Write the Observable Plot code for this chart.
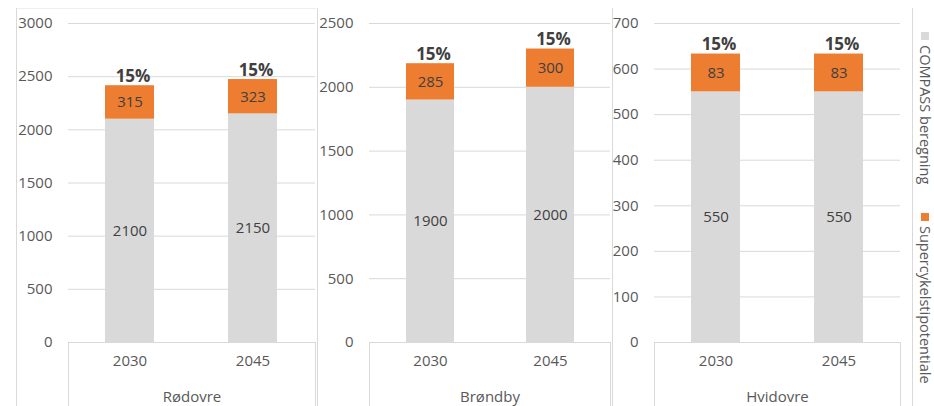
<!DOCTYPE html>
<html><head><meta charset="utf-8">
<script src="https://cdn.jsdelivr.net/npm/d3@7"></script>
<script src="https://cdn.jsdelivr.net/npm/@observablehq/plot@0.6"></script>
<style>
body{margin:0;background:#fff;font-family:"Open Sans",sans-serif;}
#chart{position:relative;width:934px;height:406px;overflow:hidden;background:#fff;}
.panel{position:absolute;top:8px;height:398px;border-left:1px solid #d9d9d9;}
.panel svg{display:block;}
.lgitem{position:absolute;left:5px;writing-mode:vertical-rl;font-size:14.5px;line-height:15px;color:#595959;white-space:nowrap;}
.lgitem .sw{display:inline-block;width:8px;height:8px;margin-bottom:5px;}
</style></head><body><div id="chart"></div>
<script>
// ---- data ----
const municipalities = ["Rødovre", "Brøndby", "Hvidovre"];
const years = ["2030", "2045"];
const seriesNames = ["COMPASS beregning", "Supercykelstipotentiale"];
const compassValues = [[2100, 2150], [1900, 2000], [550, 550]];
const supercykelValues = [[315, 323], [285, 300], [83, 83]];
const yTicks = [
  [0, 500, 1000, 1500, 2000, 2500, 3000],
  [0, 500, 1000, 1500, 2000, 2500],
  [0, 100, 200, 300, 400, 500, 600, 700]
];
const seriesColors = ["#d9d9d9", "#ed7d31"];

// ---- layout (page positions) ----
const layout = [
  {left: 16, width: 299, ml: 51, mr: 1},
  {left: 317, width: 294, ml: 51, mr: 2},
  {left: 612, width: 299, ml: 41, mr: 12}
];
const legendTops = [24, 205];
const H = 398, MT = 15, MB = 64, FS = 15;

const chart = document.getElementById("chart");
const topLine = document.createElement("div");
Object.assign(topLine.style, {position: "absolute", left: "16px", top: "8px", width: "300px", height: "1px", background: "#eeeeee"});
chart.appendChild(topLine);

municipalities.forEach((m, i) => {
  const rows = [];
  years.forEach((yr, j) => {
    rows.push({year: yr, series: seriesNames[0], value: compassValues[i][j]});
    rows.push({year: yr, series: seriesNames[1], value: supercykelValues[i][j]});
  });
  const totals = years.map((yr, j) => ({
    year: yr,
    total: compassValues[i][j] + supercykelValues[i][j],
    pct: Math.round(supercykelValues[i][j] / compassValues[i][j] * 100) + "%"
  }));
  const L = layout[i];
  const plot = Plot.plot({
    width: L.width, height: H,
    marginTop: MT, marginBottom: MB, marginLeft: L.ml, marginRight: L.mr,
    style: {fontFamily: "'Open Sans', sans-serif", background: "transparent", overflow: "visible"},
    x: {domain: years, paddingInner: 0.6, paddingOuter: 0.3},
    y: {domain: [0, yTicks[i][yTicks[i].length - 1]]},
    color: {domain: seriesNames, range: seriesColors},
    marks: [
      Plot.gridY(yTicks[i], {stroke: "#d9d9d9", strokeOpacity: 1}),
      Plot.axisY(yTicks[i], {tickSize: 0, tickPadding: 16, fontSize: FS, fill: "#595959", label: null, tickFormat: d => String(d)}),
      Plot.axisX({tickSize: 0, tickPadding: 13, fontSize: FS, fill: "#595959", label: m, labelAnchor: "center", labelOffset: 59}),
      Plot.barY(rows, {x: "year", y: "value", fill: "series"}),
      Plot.text(rows, Plot.stackY({x: "year", y: "value", z: "series", text: d => String(d.value), fontSize: FS, fill: "#404040"})),
      Plot.text(totals, {x: "year", y: "total", text: "pct", dy: -9, dx: 3, fontSize: 17, fontWeight: "bold", fill: "#404040", lineAnchor: "middle"})
    ]
  });
  const xr = plot.scale("x").range, yb = plot.scale("y").range[0];
  const svg = d3.select(plot);
  [xr[0], xr[1]].forEach(x => {
    svg.append("line").attr("x1", x + 0.5).attr("x2", x + 0.5).attr("y1", yb).attr("y2", H)
      .attr("stroke", "#d9d9d9");
  });
  svg.selectAll("[aria-label='x-axis label'] text, [aria-label='x-axis label']").attr("fill", "#595959").style("font-size", FS + "px");
  const div = document.createElement("div");
  div.className = "panel";
  div.style.left = L.left + "px";
  div.style.width = L.width + "px";
  div.appendChild(plot);
  chart.appendChild(div);
});

// legend
const lg = document.createElement("div");
lg.className = "panel";
lg.style.left = "912px";
lg.style.width = "21px";
seriesNames.forEach((s, k) => {
  const it = document.createElement("div");
  it.className = "lgitem";
  it.style.top = legendTops[k] + "px";
  it.innerHTML = `<span class="sw" style="background:${seriesColors[k]}"></span><span>${s}</span>`;
  lg.appendChild(it);
});
chart.appendChild(lg);
</script>
</body></html>
